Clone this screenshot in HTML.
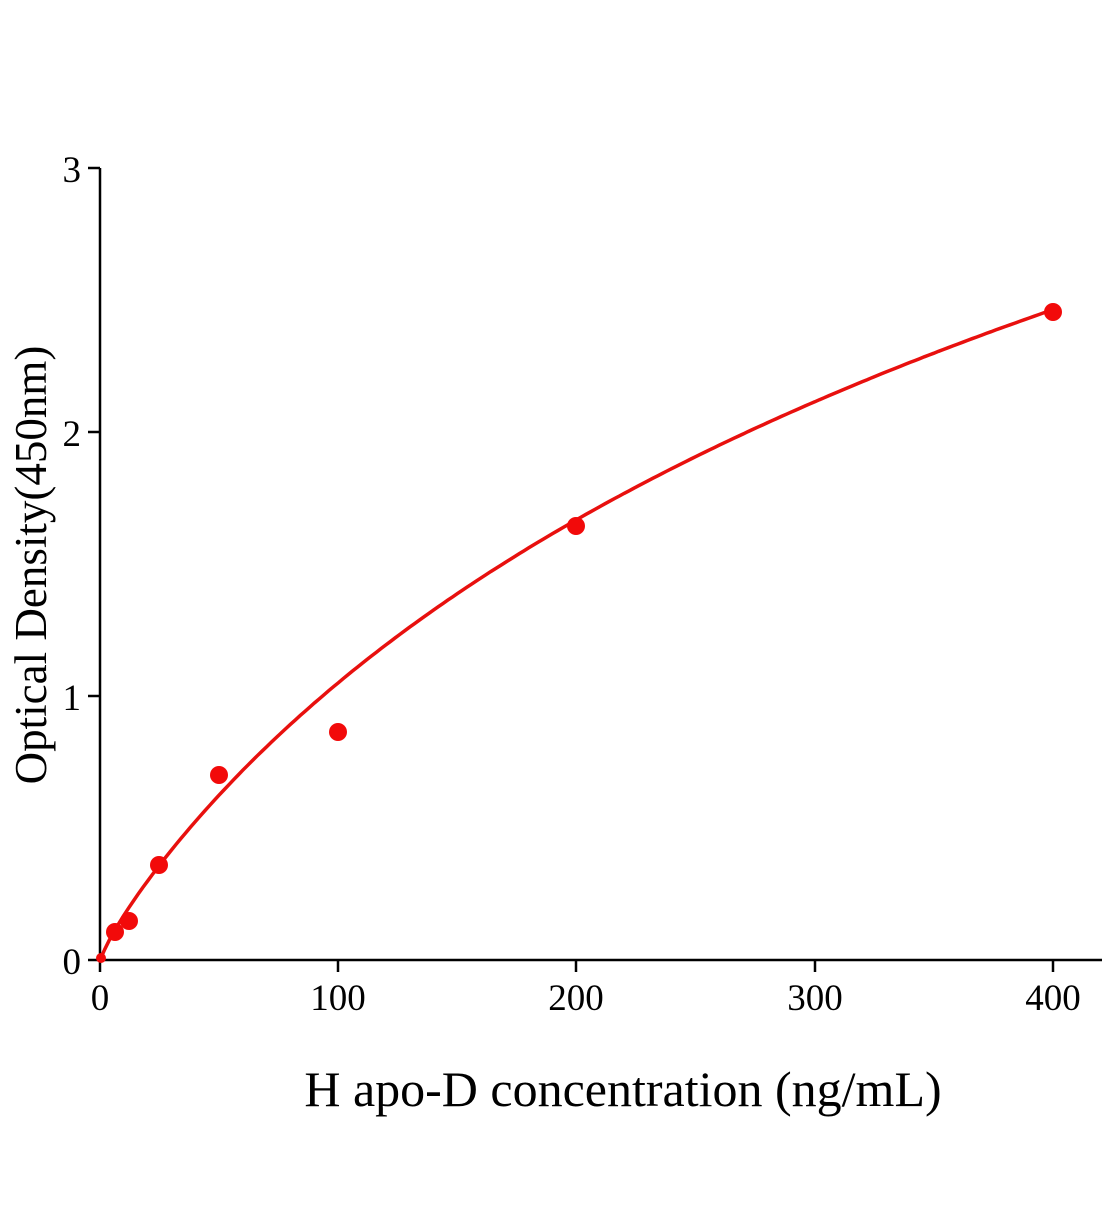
<!DOCTYPE html>
<html><head><meta charset="utf-8"><style>body{margin:0;background:#fff}</style></head>
<body>
<svg width="1104" height="1200" xmlns="http://www.w3.org/2000/svg" font-family="Liberation Serif, serif">
<rect width="1104" height="1200" fill="#fff"/>
<g stroke="#000" stroke-width="2.5" fill="none">
<line x1="100" y1="168" x2="100" y2="961"/>
<line x1="99" y1="960" x2="1102" y2="960"/>
<line x1="88" y1="168" x2="100" y2="168"/>
<line x1="88" y1="432" x2="100" y2="432"/>
<line x1="88" y1="696" x2="100" y2="696"/>
<line x1="88" y1="960" x2="100" y2="960"/>
<line x1="100" y1="960" x2="100" y2="972"/>
<line x1="338" y1="960" x2="338" y2="972"/>
<line x1="576" y1="960" x2="576" y2="972"/>
<line x1="815" y1="960" x2="815" y2="972"/>
<line x1="1053" y1="960" x2="1053" y2="972"/>
</g>
<g font-size="37" fill="#000">
<text x="81" y="182" text-anchor="end">3</text>
<text x="81" y="446" text-anchor="end">2</text>
<text x="81" y="710" text-anchor="end">1</text>
<text x="81" y="974" text-anchor="end">0</text>
<text x="100" y="1010" text-anchor="middle">0</text>
<text x="338" y="1010" text-anchor="middle">100</text>
<text x="576" y="1010" text-anchor="middle">200</text>
<text x="815" y="1010" text-anchor="middle">300</text>
<text x="1053" y="1010" text-anchor="middle">400</text>
</g>
<text x="623" y="1106" font-size="50" text-anchor="middle">H apo-D concentration (ng/mL)</text>
<text transform="translate(46,565) rotate(-90)" font-size="45" text-anchor="middle">Optical Density(450nm)</text>
<path id="curve" d="M100,960 C140,888 200,800 338,694 C480,590 800,410 1053,312" stroke="#e8100e" stroke-width="3.5" fill="none"/>
<g fill="#f20a0a">
<circle cx="115" cy="932" r="9"/>
<circle cx="129" cy="921" r="9"/>
<circle cx="159" cy="865" r="9"/>
<circle cx="219" cy="775" r="9"/>
<circle cx="338" cy="732" r="9"/>
<circle cx="576" cy="526" r="9"/>
<circle cx="1053" cy="312" r="9"/>
<circle cx="101" cy="958" r="5"/>
</g>
</svg>
<script>
var d="";for(var i=0;i<=400;i+=2){var x=i;var y=1.753*Math.log(1+x/130)+0.06*x/(x+8)*(1-x/400)*1.2;var px=100+x*2.3825,py=960-y*264;d+=(i?"L":"M")+px.toFixed(1)+","+py.toFixed(1);}
document.getElementById("curve").setAttribute("d",d);
</script>
</body></html>
